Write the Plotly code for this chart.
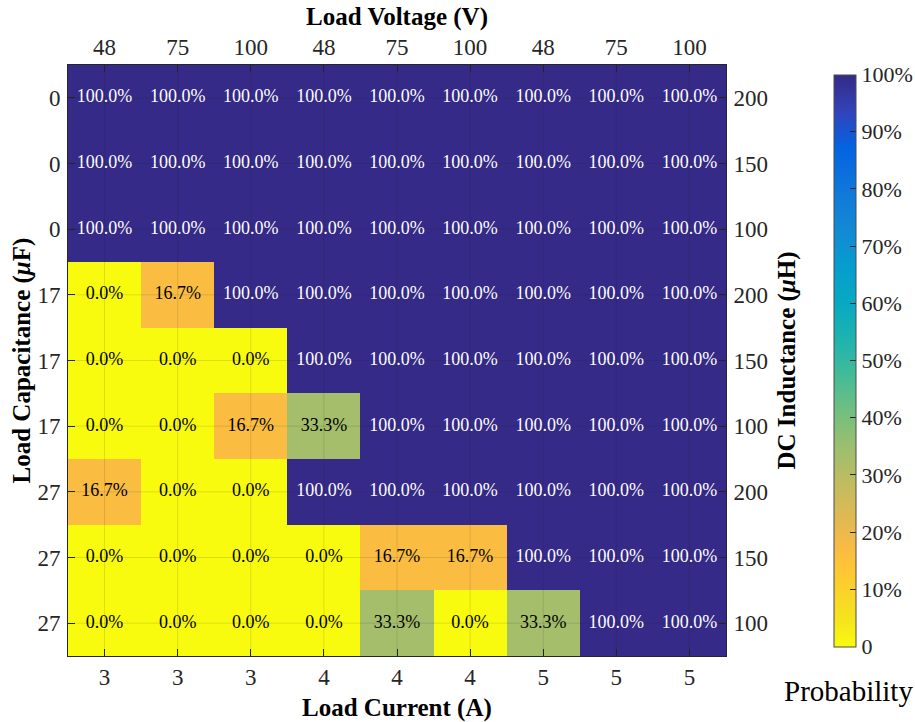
import plotly.graph_objects as go

# Test grid: columns = (load current, load voltage), rows = (load capacitance, DC inductance)
load_current = [3, 3, 3, 4, 4, 4, 5, 5, 5]
load_voltage = [48, 75, 100, 48, 75, 100, 48, 75, 100]
load_capacitance = [0, 0, 0, 17, 17, 17, 27, 27, 27]
dc_inductance = [200, 150, 100, 200, 150, 100, 200, 150, 100]

# Probability (%) for each row (top to bottom) and column (left to right)
probability = [
    [100.0, 100.0, 100.0, 100.0, 100.0, 100.0, 100.0, 100.0, 100.0],
    [100.0, 100.0, 100.0, 100.0, 100.0, 100.0, 100.0, 100.0, 100.0],
    [100.0, 100.0, 100.0, 100.0, 100.0, 100.0, 100.0, 100.0, 100.0],
    [0.0, 16.7, 100.0, 100.0, 100.0, 100.0, 100.0, 100.0, 100.0],
    [0.0, 0.0, 0.0, 100.0, 100.0, 100.0, 100.0, 100.0, 100.0],
    [0.0, 0.0, 16.7, 33.3, 100.0, 100.0, 100.0, 100.0, 100.0],
    [16.7, 0.0, 0.0, 100.0, 100.0, 100.0, 100.0, 100.0, 100.0],
    [0.0, 0.0, 0.0, 0.0, 16.7, 16.7, 100.0, 100.0, 100.0],
    [0.0, 0.0, 0.0, 0.0, 33.3, 0.0, 33.3, 100.0, 100.0],
]

colorbar_ticks = [0, 10, 20, 30, 40, 50, 60, 70, 80, 90, 100]

# Parula colormap samples (dark blue -> yellow), used reversed so 0 is yellow
parula = [
    (0.2081, 0.1663, 0.5292), (0.1959, 0.2645, 0.7279), (0.0117, 0.3875, 0.8820),
    (0.0629, 0.4737, 0.8554), (0.0749, 0.5375, 0.8263), (0.0265, 0.6137, 0.8135),
    (0.0267, 0.6642, 0.7607), (0.1133, 0.7015, 0.6859), (0.2586, 0.7317, 0.5954),
    (0.4420, 0.7481, 0.5033), (0.6099, 0.7473, 0.4337), (0.6473, 0.7456, 0.4188),
    (0.7525, 0.7384, 0.3768), (0.8824, 0.7274, 0.3217), (0.9739, 0.7314, 0.2666),
    (0.9990, 0.7653, 0.2164), (0.9788, 0.8271, 0.1633), (0.9589, 0.8949, 0.1132),
    (0.9763, 0.9831, 0.0538),
]
parula_pos = [0, 4, 8, 13, 17, 21, 25, 29, 33, 37, 41, 42, 45, 49, 52, 54, 57, 60, 63]


def rgb(c):
    return "rgb(%d,%d,%d)" % tuple(round(v * 255) for v in c)


colorscale = sorted(
    [[1 - p / 63, rgb(c)] for p, c in zip(parula_pos, parula)], key=lambda s: s[0]
)

n_cols = len(load_current)
n_rows = len(load_capacitance)
cols = list(range(n_cols))
rows = list(range(n_rows))

SERIF = "Liberation Serif, Times New Roman, serif"
TICK_COLOR = "#262626"

fig = go.Figure()
fig.add_trace(
    go.Heatmap(
        z=probability,
        x=cols,
        y=rows,
        colorscale=colorscale,
        zmin=0,
        zmax=100,
        hoverinfo="skip",
        colorbar=dict(
            x=(834 - 68) / 658,
            xanchor="left",
            y=0.5,
            yanchor="middle",
            lenmode="pixels",
            len=572,
            thickness=22,
            thicknessmode="pixels",
            outlinecolor="#4d4d4d",
            outlinewidth=1,
            tickvals=colorbar_ticks,
            ticktext=["0"] + ["%d%%" % t for t in colorbar_ticks[1:]],
            ticks="inside",
            ticklen=6,
            tickcolor=TICK_COLOR,
            tickfont=dict(family=SERIF, size=22, color=TICK_COLOR),
            ypad=0,
            xpad=0,
        ),
    )
)

# cell labels: white on the saturated cells, black elsewhere
cell_x, cell_y, cell_text, cell_color = [], [], [], []
for r, row in zip(rows, probability):
    for c, v in zip(cols, row):
        cell_x.append(c)
        cell_y.append(r)
        cell_text.append("%.1f%%" % v)
        cell_color.append("white" if v > 60 else "black")
fig.add_trace(go.Scatter(x=cell_x, y=cell_y, mode="text", text=cell_text,
                         textfont=dict(family=SERIF, size=18, color=cell_color),
                         showlegend=False, hoverinfo="skip"))

axis_common = dict(
    range=[-0.5, n_cols - 0.5],
    tickmode="array",
    ticks="inside",
    ticklen=7,
    tickcolor=TICK_COLOR,
    tickfont=dict(family=SERIF, size=23, color=TICK_COLOR),
    showgrid=False,
    zeroline=False,
    showline=True,
    linecolor=TICK_COLOR,
    linewidth=1,
)

fig.update_layout(
    width=915,
    height=722,
    margin=dict(l=68, r=189, t=65, b=66, autoexpand=False),
    paper_bgcolor="white",
    plot_bgcolor="white",
    xaxis=dict(axis_common, tickvals=cols, ticktext=[str(v) for v in load_current],
               side="bottom", ticklabelstandoff=0),
    xaxis2=dict(axis_common, tickvals=cols, ticktext=[str(v) for v in load_voltage],
                side="top", overlaying="x", matches="x", ticklabelstandoff=0),
    yaxis=dict(axis_common, range=[n_rows - 0.5, -0.5], tickvals=rows,
               ticktext=[str(v) for v in load_capacitance], side="left",
               ticklabelstandoff=2),
    yaxis2=dict(axis_common, range=[n_rows - 0.5, -0.5], tickvals=rows,
                ticktext=[str(v) for v in dc_inductance], side="right",
                overlaying="y", matches="y", ticklabelstandoff=2),
)

# invisible trace so the top and right axes are drawn
fig.add_trace(go.Scatter(x=[cols[0]], y=[rows[0]], xaxis="x2", yaxis="y2",
                         mode="markers", marker=dict(opacity=0), showlegend=False,
                         hoverinfo="skip"))

# faint grid drawn over the cells at each tick
grid_line = dict(color="rgba(30,30,30,0.13)", width=1)
for c in cols:
    fig.add_shape(type="line", xref="x", yref="paper", x0=c, x1=c, y0=0, y1=1,
                  line=grid_line, layer="above")
for r in rows:
    fig.add_shape(type="line", xref="paper", yref="y", x0=0, x1=1, y0=r, y1=r,
                  line=grid_line, layer="above")

title_font = dict(family=SERIF, size=25, color="black")
fig.add_annotation(text="<b>Load Voltage (V)</b>", xref="paper", yref="paper",
                   x=0.5, y=1, xanchor="center", yanchor="middle", yshift=48,
                   showarrow=False, font=title_font)
fig.add_annotation(text="<b>Load Current (A)</b>", xref="paper", yref="paper",
                   x=0.5, y=0, xanchor="center", yanchor="middle", yshift=-52,
                   showarrow=False, font=title_font)
fig.add_annotation(text="<b>Load Capacitance (<i>μ</i>F)</b>", xref="paper",
                   yref="paper", x=0, y=0.5, xanchor="center", yanchor="middle",
                   xshift=-47, textangle=-90, showarrow=False, font=title_font)
fig.add_annotation(text="<b>DC Inductance (<i>μ</i>H)</b>", xref="paper",
                   yref="paper", x=1, y=0.5, xanchor="center", yanchor="middle",
                   xshift=60, textangle=-90, showarrow=False, font=title_font)
fig.add_annotation(text="Probability", xref="paper", yref="paper",
                   x=1, y=0, xanchor="center", yanchor="middle", xshift=122,
                   yshift=-35, showarrow=False,
                   font=dict(family=SERIF, size=29, color="black"))

fig.write_html("out.html")
